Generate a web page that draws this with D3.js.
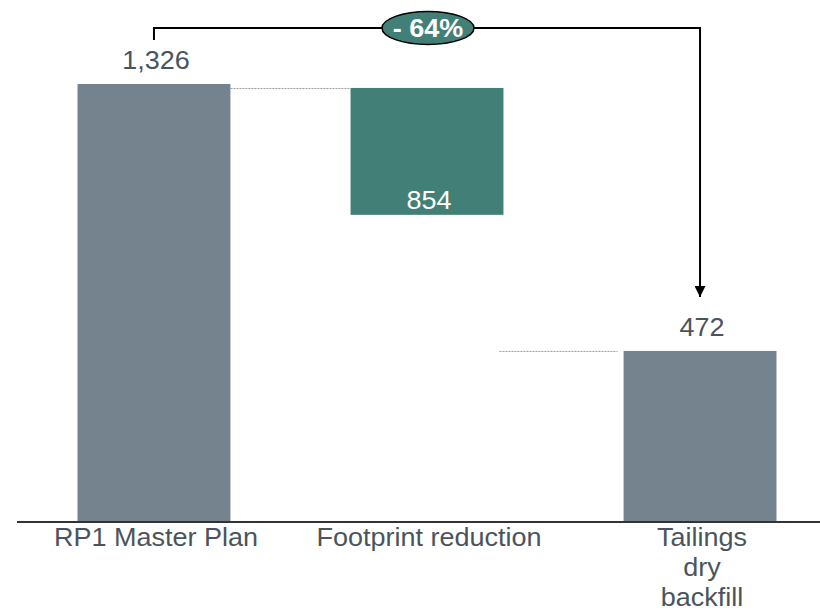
<!DOCTYPE html>
<html lang="en">
<head>
<meta charset="UTF-8">
<title>Waterfall</title>
<script src="https://cdn.jsdelivr.net/npm/d3@7"></script>
<style>
  body { margin: 0; background: #fff; }
  text { font-family: "Liberation Sans", Arial, sans-serif; }
</style>
</head>
<body>
<svg width="820" height="613"></svg>
<script>
// data
var categories = ['RP1 Master Plan', 'Footprint reduction', 'Tailings dry backfill'];
var labelLines = [['RP1 Master Plan'], ['Footprint reduction'], ['Tailings', 'dry', 'backfill']];
var values = [1326, 854, 472];
var valueLabels = ['1,326', '854', '472'];
// bar extents as drawn in the picture
var barStart = [0, 929, 0];
var barEnd = [1326, 1314, 516];
var changeLabel = '- 64%';

var svg = d3.select('svg');
var gray = '#75838f', green = '#427f76', textCol = '#4b545d';

var x = d3.scaleBand()
    .domain(categories)
    .range([18, 836])
    .paddingInner(0.44)
    .paddingOuter(0.218);
var y = d3.scaleLinear().domain([0, 1326]).range([521, 84]);
var bw = x.bandwidth();

function stext(g, tx, ty, str) {
    // slightly wide text like the reference
    return g.append('text')
        .attr('transform', 'translate(' + tx + ',' + ty + ') scale(1.08,1)')
        .attr('text-anchor', 'middle')
        .text(str);
}

// bars
svg.selectAll('rect.bar').data(categories).enter().append('rect')
    .attr('class', 'bar')
    .attr('x', function (d) { return x(d); })
    .attr('width', bw)
    .attr('y', function (d, i) { return y(barEnd[i]); })
    .attr('height', function (d, i) { return y(barStart[i]) - y(barEnd[i]); })
    .attr('fill', function (d, i) { return i == 1 ? green : gray; });

// dotted connectors
var conn = [
    [x(categories[0]) + bw, x(categories[1]), y(barEnd[1])],
    [x(categories[1]) + bw - 4, x(categories[2]) - 6, y(barEnd[2])]
];
svg.selectAll('line.conn').data(conn).enter().append('line')
    .attr('x1', function (d) { return d[0]; })
    .attr('x2', function (d) { return d[1]; })
    .attr('y1', function (d) { return d[2] + 0.5; })
    .attr('y2', function (d) { return d[2] + 0.5; })
    .attr('stroke', '#9a9a9a')
    .attr('stroke-width', 1)
    .attr('stroke-dasharray', '2,1');

// baseline
svg.append('line')
    .attr('x1', 17).attr('x2', 820)
    .attr('y1', y(0) + 1).attr('y2', y(0) + 1)
    .attr('stroke', '#333').attr('stroke-width', 2);

// value labels
var vl = svg.append('g').attr('font-size', 25);
categories.forEach(function (c, i) {
    var cx = x(c) + bw / 2 + 2;
    if (i == 1) {
        stext(vl, cx, y(barStart[1]) - 6, valueLabels[i]).attr('fill', '#fff');
    } else {
        stext(vl, cx, y(barEnd[i]) - 15, valueLabels[i]).attr('fill', textCol);
    }
});

// category labels
var cl = svg.append('g').attr('font-size', 25).attr('fill', textCol);
labelLines.forEach(function (lines, i) {
    lines.forEach(function (t, j) {
        stext(cl, x(categories[i]) + bw / 2 + 2, 546 + j * 30, t);
    });
});

// bracket with arrow
svg.append('defs').append('marker')
    .attr('id', 'arr')
    .attr('viewBox', '0 0 10 10')
    .attr('refX', 10).attr('refY', 5)
    .attr('markerWidth', 11).attr('markerHeight', 11)
    .attr('markerUnits', 'userSpaceOnUse')
    .attr('orient', 'auto')
    .append('path').attr('d', 'M0,0L10,5L0,10Z').attr('fill', '#000');

var bx0 = x(categories[0]) + bw / 2, bx1 = x(categories[2]) + bw / 2, by = 28;
svg.append('path')
    .attr('d', 'M' + bx0 + ',40V' + by + 'H' + bx1 + 'V297')
    .attr('fill', 'none')
    .attr('stroke', '#000')
    .attr('stroke-width', 2)
    .attr('marker-end', 'url(#arr)');

var ex = (x(categories[1]) + bw / 2) + 1;
svg.append('ellipse')
    .attr('cx', ex).attr('cy', by)
    .attr('rx', 46).attr('ry', 16.5)
    .attr('fill', green)
    .attr('stroke', '#000').attr('stroke-width', 1.5);
stext(svg, ex, by + 9, changeLabel)
    .attr('fill', '#fff')
    .attr('font-size', 25)
    .attr('font-weight', 'bold');
</script>
</body>
</html>
